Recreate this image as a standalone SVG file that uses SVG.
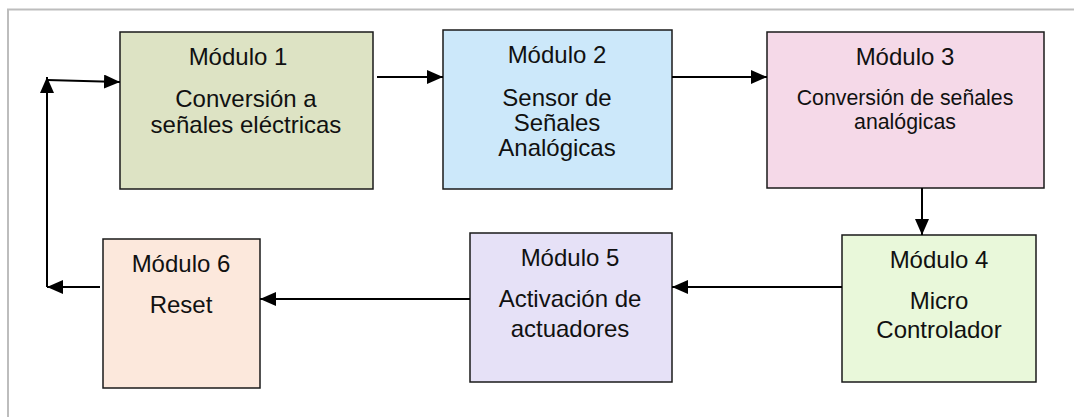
<svg xmlns="http://www.w3.org/2000/svg" width="1074" height="417" viewBox="0 0 1074 417">
<style>
.box{stroke:#1a1a1a;stroke-width:1.5}
.t{font-family:"Liberation Sans",Arial,sans-serif;font-size:24px;fill:#111;text-anchor:middle}
.s{font-size:21.3px}
.c{stroke:#000;stroke-width:2;fill:none}
.frame{stroke:#bdbdbd;stroke-width:2;fill:none}
</style>
<defs>
<marker id="ahl" markerWidth="16" markerHeight="14" refX="16" refY="7" orient="auto" markerUnits="userSpaceOnUse" viewBox="0 0 16 14">
<path d="M0,0 L16,7 L0,14 Z" fill="#000"/>
</marker>
</defs>
<rect width="1074" height="417" fill="#fff"/>
<path class="frame" d="M8,417 V9.5 H1074"/>
<g id="m1"><rect class="box" x="120" y="32" width="253" height="157" fill="#dde3c4"/>
<text class="t" x="238" y="65">Módulo 1</text>
<text class="t" x="246" y="107">Conversión a</text>
<text class="t" x="246" y="133">señales eléctricas</text></g>
<g id="m2"><rect class="box" x="443" y="30" width="229" height="159" fill="#cce8fa"/>
<text class="t" x="557" y="63">Módulo 2</text>
<text class="t" x="557" y="106">Sensor de</text>
<text class="t" x="557" y="131">Señales</text>
<text class="t" x="557" y="156">Analógicas</text></g>
<g id="m3"><rect class="box" x="767" y="32" width="277" height="156" fill="#f5d9e8"/>
<text class="t" x="905" y="65">Módulo 3</text>
<text class="t s" x="905" y="105">Conversión de señales</text>
<text class="t s" x="905" y="129">analógicas</text></g>
<g id="m4"><rect class="box" x="842" y="235" width="194" height="147" fill="#e9f8da"/>
<text class="t" x="939" y="268">Módulo 4</text>
<text class="t" x="939" y="309">Micro</text>
<text class="t" x="939" y="338">Controlador</text></g>
<g id="m5"><rect class="box" x="470" y="233" width="202" height="149" fill="#e6e1f7"/>
<text class="t" x="570" y="266">Módulo 5</text>
<text class="t" x="570" y="307">Activación de</text>
<text class="t" x="570" y="337">actuadores</text></g>
<g id="m6"><rect class="box" x="103" y="239" width="157" height="149" fill="#fce8dc"/>
<text class="t" x="181" y="272">Módulo 6</text>
<text class="t" x="181" y="313">Reset</text></g>
<g id="connectors">
<path class="c" d="M377,77 H443" marker-end="url(#ahl)"/>
<path class="c" d="M672,77 H767" marker-end="url(#ahl)"/>
<path class="c" d="M922,188 V235" marker-end="url(#ahl)"/>
<path class="c" d="M842,287 H672" marker-end="url(#ahl)"/>
<path class="c" d="M470,299 H260" marker-end="url(#ahl)"/>
<path class="c" d="M100,287 H47" marker-end="url(#ahl)"/>
<path class="c" d="M47,287 V77" marker-end="url(#ahl)"/>
<path class="c" d="M47,80 L120,82" marker-end="url(#ahl)"/>
</g>
</svg>
